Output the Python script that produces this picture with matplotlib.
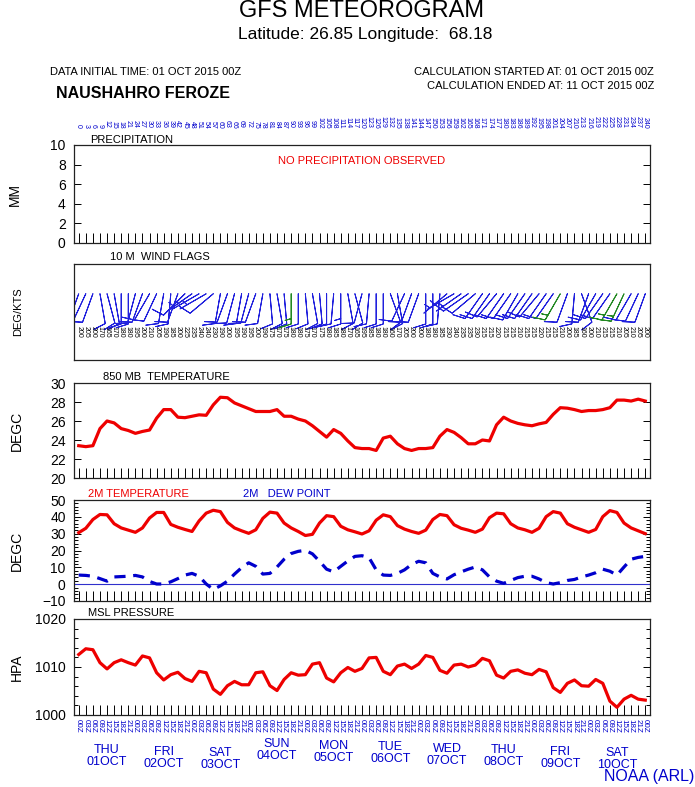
import matplotlib
matplotlib.use("Agg")
import matplotlib.pyplot as plt
import numpy as np

plt.rcParams["font.family"] = ["Liberation Sans", "DejaVu Sans"]

# forecast hours, every 3 h for 10 days
hours = np.arange(0, 241, 3)

t850 = [23.4, 23.3, 23.4, 25.2, 26.0, 25.8, 25.2, 25.0, 24.7, 24.9, 25.05,
        26.3, 27.2, 27.2, 26.4, 26.35, 26.5, 26.65, 26.6, 27.7, 28.5, 28.45,
        27.9, 27.6, 27.3, 27.0, 27.0, 27.0, 27.2, 26.5, 26.5, 26.2, 26.0,
        25.5, 24.9, 24.3, 25.1, 24.7, 23.9, 23.2, 23.1, 23.1, 22.9, 24.2,
        24.4, 23.6, 23.1, 22.9, 23.1, 23.1, 23.2, 24.4, 25.1, 24.8, 24.25,
        23.6, 23.6, 24.0, 23.9, 25.6, 26.4, 26.0, 25.75, 25.6, 25.5, 25.7,
        25.85, 26.7, 27.4, 27.35, 27.2, 27.0, 27.1, 27.1, 27.2, 27.4, 28.2,
        28.2, 28.1, 28.3, 28.1]

t2m = [30.6, 33.2, 38.4, 41.4, 41.2, 35.9, 33.4, 32.1, 30.8, 33.4, 39.3,
       42.6, 42.6, 35.5, 33.8, 32.5, 31.3, 37.6, 42.2, 43.9, 43.1, 36.7,
       33.4, 31.7, 30.2, 32.3, 39.1, 42.8, 42.2, 36.3, 33.4, 31.3, 28.9,
       29.6, 36.3, 40.7, 40.1, 34.4, 32.3, 31.1, 29.8, 31.7, 38.0, 41.2,
       40.1, 34.8, 32.7, 31.3, 30.2, 32.1, 38.4, 41.4, 40.7, 35.3, 33.2,
       32.1, 30.8, 32.7, 39.5, 42.2, 41.8, 35.9, 33.4, 32.3, 30.8, 33.2,
       40.1, 43.1, 42.2, 35.9, 33.8, 32.3, 30.8, 32.5, 40.1, 43.7, 42.6,
       36.3, 33.4, 31.7, 30.0]

dewpt = [5.4, 5.2, 4.7, 3.3, 1.8, 4.3, 4.5, 4.7, 5.2, 4.3, 1.6, 0.1, 0.1,
         1.4, 3.3, 5.4, 6.4, 4.7, 0.1, -3.1, -1.0, 1.8, 6.0, 9.8, 12.7,
         10.6, 6.0, 6.4, 10.2, 14.8, 18.2, 19.5, 20.1, 18.0, 13.6, 8.9, 7.3,
         10.6, 13.8, 16.5, 16.9, 15.7, 8.5, 5.4, 5.2, 6.4, 8.5, 11.7, 13.6,
         12.7, 6.4, 4.3, 3.1, 5.6, 7.3, 8.9, 10.2, 8.5, 4.3, 1.8, 0.5, 2.2,
         3.9, 4.7, 4.7, 3.1, 0.9, 0.1, 0.9, 2.2, 2.8, 4.3, 5.4, 6.8, 8.9,
         7.7, 5.4, 10.2, 14.8, 15.9, 16.5]

mslp = [1012.6, 1013.8, 1013.6, 1010.9, 1009.6, 1010.9, 1011.5, 1010.9,
        1010.4, 1012.3, 1011.9, 1008.8, 1007.3, 1008.4, 1008.9, 1007.6,
        1007.0, 1009.1, 1008.8, 1005.4, 1004.3, 1006.1, 1007.0, 1006.3,
        1006.3, 1008.8, 1009.0, 1006.1, 1005.1, 1007.4, 1008.8, 1008.3,
        1008.4, 1010.6, 1010.9, 1007.7, 1006.9, 1008.8, 1009.9, 1009.1,
        1009.7, 1011.9, 1012.0, 1009.1, 1008.4, 1010.2, 1010.6, 1009.7,
        1010.6, 1012.4, 1012.0, 1009.3, 1008.7, 1010.4, 1010.6, 1010.0,
        1010.4, 1011.8, 1011.3, 1008.3, 1007.7, 1009.1, 1009.4, 1008.7,
        1008.4, 1009.5, 1009.0, 1005.7, 1004.7, 1006.6, 1007.3, 1006.1,
        1006.0, 1007.4, 1006.6, 1002.9, 1001.6, 1003.3, 1004.1, 1003.3,
        1003.1]

# 10 m wind: direction (deg, from) and speed (kts)
wind_dir = [200, 205, 200, 170, 165, 170, 180, 180, 195, 200, 210, 205,
            190, 185, 200, 225, 235, 240, 240, 230, 190, 200, 195, 190,
            195, 200, 190, 175, 170, 175, 180, 180, 175, 170, 175, 180,
            185, 180, 170, 165, 195, 185, 180, 180, 160, 170, 205, 200,
            200, 180, 180, 185, 230, 240, 235, 235, 230, 215, 215, 220,
            215, 215, 210, 215, 215, 220, 215, 215, 210, 200, 185, 160,
            200, 210, 215, 215, 210, 205, 210, 205, 200]
wind_spd = [6, 8, 8, 9, 9, 9, 8, 10, 10, 9, 8, 8, 9, 10, 10, 8, 7, 6, 6,
            8, 9, 9, 9, 10, 10, 10, 10, 11, 12, 12, 15, 12, 12, 11, 11,
            12, 12, 13, 12, 10, 9, 10, 11, 12, 10, 9, 8, 9, 10, 11, 12,
            12, 7, 6, 7, 8, 8, 9, 9, 10, 10, 10, 9, 9, 10, 10, 11, 12, 15,
            12, 11, 9, 9, 10, 11, 12, 15, 15, 12, 11, 10]

day_labels = ["THU\n01OCT", "FRI\n02OCT", "SAT\n03OCT", "SUN\n04OCT",
              "MON\n05OCT", "TUE\n06OCT", "WED\n07OCT", "THU\n08OCT",
              "FRI\n09OCT", "SAT\n10OCT"]
day_drop = [29, 31, 32, 23, 25, 26, 28, 29, 31, 32]  # px below pressure panel

RED = "#ee0000"
BLUE = "#0000cc"
W, H = 695, 787


def panel(top, bottom):
    return fig.add_axes([74 / W, 1 - bottom / H, 576 / W, (bottom - top) / H])


def common(ax, ticks=True):
    ax.set_xlim(-2, 242)
    for s in ax.spines.values():
        s.set_linewidth(0.9)
        s.set_color("#222222")
    if ticks:
        ax.set_xticks(hours)
        ax.tick_params(axis="x", direction="in", length=7, width=0.7,
                       labelbottom=False, top=False)
        ax.tick_params(axis="y", which="both", direction="in", right=True,
                       labelsize=10, width=0.7, pad=6)
        ax.tick_params(axis="y", which="major", length=5)
        ax.tick_params(axis="y", which="minor", length=3)
    else:
        ax.set_xticks([])
        ax.set_yticks([])


fig = plt.figure(figsize=(W / 100, H / 100), dpi=100)

fig.text(0.52, 1 - 11 / H, "GFS METEOROGRAM", ha="center", va="center", fontsize=17)
fig.text(0.525, 1 - 35 / H, "Latitude: 26.85 Longitude:  68.18", ha="center",
         va="center", fontsize=12.5)
fig.text(50 / W, 1 - 72 / H, "DATA INITIAL TIME: 01 OCT 2015 00Z", va="center", fontsize=8)
fig.text(56 / W, 1 - 93 / H, "NAUSHAHRO FEROZE", va="center", fontsize=11.5,
         fontweight="bold")
fig.text(654 / W, 1 - 72 / H, "CALCULATION STARTED AT: 01 OCT 2015 00Z", ha="right",
         va="center", fontsize=8)
fig.text(654 / W, 1 - 86 / H, "CALCULATION ENDED AT: 11 OCT 2015 00Z", ha="right",
         va="center", fontsize=8)

# precipitation
ax = panel(145, 243)
common(ax)
ax.set_ylim(0, 10)
ax.set_yticks(range(0, 11, 2))
ax.text(90 / W, 1 - 140 / H, "PRECIPITATION", transform=fig.transFigure, va="center", fontsize=8)
ax.text(0.5, 0.84, "NO PRECIPITATION OBSERVED", transform=ax.transAxes, ha="center",
        va="center", color=RED, fontsize=8)
for h in hours:
    ax.annotate(str(h), (h, 1), xycoords=("data", "axes fraction"), xytext=(0, 12),
                textcoords="offset points", rotation=270, ha="center", va="bottom",
                fontsize=5, color=BLUE)
fig.text(15 / W, 1 - 194 / H, "MM", rotation=90, ha="center", va="center", fontsize=10)

# wind flags
ax = panel(264, 360)
common(ax, ticks=False)
ax.set_ylim(0, 1)
rad = np.deg2rad(wind_dir)
spd = np.array(wind_spd, float)
u = -spd * np.sin(rad)
v = -spd * np.cos(rad)
cols = ["#228822" if s >= 15 else "#2020dd" for s in wind_spd]
ax.barbs(hours, np.full(len(hours), 0.69), u, v, length=6.6, pivot="tip",
         barbcolor=cols, flagcolor=cols, linewidth=0.7,
         sizes=dict(emptybarb=0.12, spacing=0.18, height=0.4))
for h, d in zip(hours, wind_dir):
    ax.text(h, 0.35, f"{d}", rotation=270, ha="center", va="top", fontsize=5)
fig.text(110 / W, 1 - 257 / H, "10 M  WIND FLAGS", va="center", fontsize=8)
fig.text(18 / W, 1 - 312 / H, "DEG/KTS", rotation=90, ha="center", va="center", fontsize=8)

# 850 mb temperature
ax = panel(383, 478)
common(ax)
ax.set_ylim(20, 30)
ax.set_yticks(range(20, 31, 2))
ax.plot(hours, t850, color=RED, lw=2.3)
fig.text(103 / W, 1 - 377 / H, "850 MB  TEMPERATURE", va="center", fontsize=8)
fig.text(17 / W, 1 - 431 / H, "DEGC", rotation=90, ha="center", va="center", fontsize=10)

# 2 m temperature / dew point
ax = panel(500, 601)
common(ax)
ax.set_ylim(-10, 50)
ax.set_yticks(range(-10, 51, 10))
ax.set_yticks(range(-10, 51, 2), minor=True)
ax.axhline(0, color="#3030cc", lw=0.8)
ax.plot(hours, t2m, color=RED, lw=2.3)
ax.plot(hours, dewpt, color=BLUE, lw=2.3, ls=(0, (3.5, 2.4)))
fig.text(88 / W, 1 - 494 / H, "2M TEMPERATURE", va="center", fontsize=8, color=RED)
fig.text(243 / W, 1 - 494 / H, "2M   DEW POINT", va="center", fontsize=8, color=BLUE)
fig.text(17 / W, 1 - 551 / H, "DEGC", rotation=90, ha="center", va="center", fontsize=10)

# MSL pressure
ax = panel(619, 715)
common(ax)
ax.set_ylim(1000, 1020)
ax.set_yticks([1000, 1010, 1020])
ax.set_yticks(range(1000, 1021, 2), minor=True)
ax.plot(hours, mslp, color=RED, lw=2.3)
fig.text(88 / W, 1 - 613 / H, "MSL PRESSURE", va="center", fontsize=8)
fig.text(17 / W, 1 - 667 / H, "HPA", rotation=90, ha="center", va="center", fontsize=10)
for h in hours:
    ax.annotate(f"{h % 24:02d}Z", (h, 0), xycoords=("data", "axes fraction"),
                xytext=(0, -3), textcoords="offset points", rotation=270, ha="center",
                va="top", fontsize=5.8, color=BLUE)
for k, (lab, drop) in enumerate(zip(day_labels, day_drop)):
    ax.annotate(lab, (12 + 24 * k, 0), xycoords=("data", "axes fraction"),
                xytext=(0, -drop * 0.72), textcoords="offset points", ha="center",
                va="top", fontsize=9, color=BLUE, linespacing=0.95)

fig.text(604 / W, 1 - 784 / H, "NOAA (ARL)", va="bottom", fontsize=11.5, color=BLUE)

fig.savefig("out.png", dpi=100)
